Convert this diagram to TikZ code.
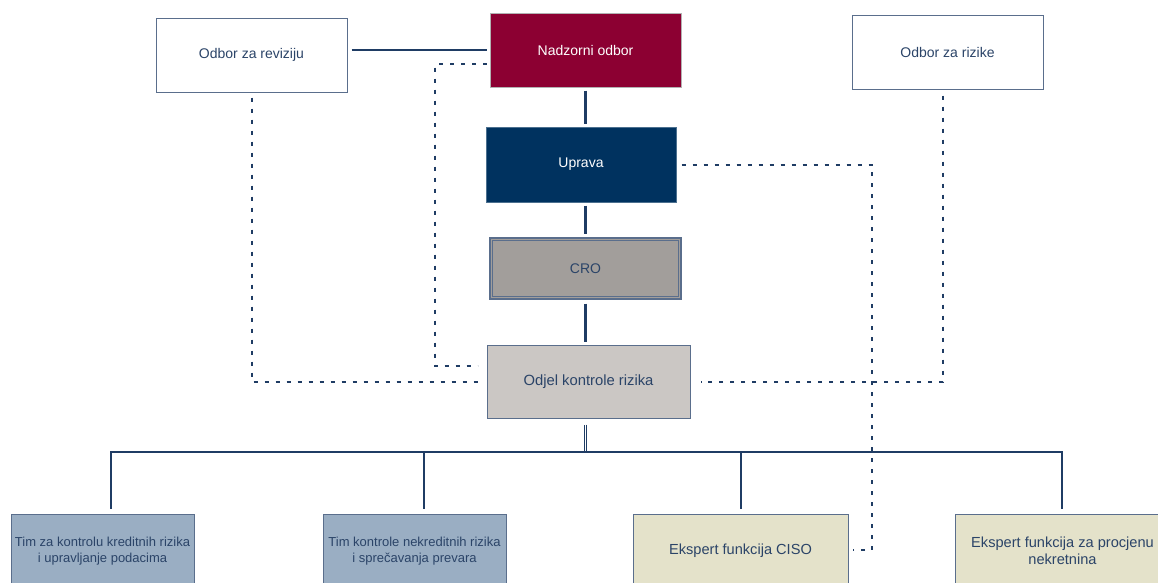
\documentclass[tikz,border=0pt]{standalone}
\usepackage{fontspec}
\setmainfont{Liberation Sans}
\usetikzlibrary{calc}
\definecolor{navy}{HTML}{1F3C64}
\definecolor{txtblue}{HTML}{2B4468}
\definecolor{nadfill}{HTML}{8C0032}
\definecolor{uprfill}{HTML}{00325F}
\definecolor{crofill}{HTML}{A29E9B}
\definecolor{odjfill}{HTML}{CBC7C4}
\definecolor{timfill}{HTML}{9AAEC3}
\definecolor{ekfill}{HTML}{E4E2CA}
\definecolor{bord}{HTML}{5A6E8C}
\tikzset{
  box/.style={draw=bord, line width=1pt, align=center, inner sep=0pt,
    font=\fontsize{14}{16}\selectfont, text=txtblue},
  timbox/.style={box, fill=timfill, minimum width=183pt, minimum height=74pt,
    font=\fontsize{13}{15.5}\selectfont},
  ekbox/.style={box, fill=ekfill, minimum width=215pt, minimum height=74pt,
    font=\fontsize{14.6}{16.5}\selectfont},
  conn/.style={draw=navy, line width=2.2pt},
  dotline/.style={draw=navy, line width=2pt, dash pattern=on 4pt off 7pt},
}
\begin{document}
\begin{tikzpicture}[x=1pt,y=-1pt]
\useasboundingbox[fill=white] (0,0) rectangle (1158,582);
% nodes
\node[box, fill=white, minimum width=191pt, minimum height=74pt] (rev) at (251.5,55) {Odbor za reviziju};
\node[box, fill=nadfill, draw=gray!60, text=white, minimum width=191pt, minimum height=74pt] (nad) at (585.5,50) {Nadzorni odbor};
\node[box, fill=white, minimum width=191pt, minimum height=74pt] (riz) at (947.5,52) {Odbor za rizike};
\node[box, fill=uprfill, draw=uprfill!70!white, text=white, minimum width=190pt, minimum height=75pt] (upr) at (581,164.5) {Uprava};
\node[box, fill=crofill, line width=1.2pt, minimum width=191pt, minimum height=61pt] (cro) at (585.5,268.5) {CRO};
\draw[draw=bord, line width=1pt] ($(cro.north west)+(3,3)$) rectangle ($(cro.south east)+(-3,-3)$);
\node[box, fill=odjfill, minimum width=203pt, minimum height=73pt, font=\fontsize{14.8}{17}\selectfont] (odj) at (588.5,381.5) {Odjel kontrole rizika};
\node[timbox] (t1) at (102.5,551) {Tim za kontrolu kreditnih rizika\\i upravljanje podacima};
\node[timbox] (t2) at (414.5,551) {Tim kontrole nekreditnih rizika\\i sprečavanja prevara};
\node[ekbox] (e1) at (740.5,551) {Ekspert funkcija CISO};
\node[ekbox] (e2) at (1062.5,551) {Ekspert funkcija za procjenu\\nekretnina};
% solid connectors
\draw[conn] ($(rev.east)+(4,-5)$) -- ($(nad.west)+(-3,0)$);
\draw[conn] ($(nad.south)+(0,3)$) -- ($(upr.north)+(4.5,-3)$);
\draw[conn] ($(upr.south)+(4.5,3)$) -- ($(cro.north)+(0,-3)$);
\draw[conn] ($(cro.south)+(0,4)$) -- ($(odj.north)+(-3,-3)$);
% double line and bus
\coordinate (bus) at ($(odj.south)+(-3,34)$);
\draw[draw=navy, line width=1.4pt, double=white, double distance=0.9pt] ($(odj.south)+(-3,6)$) -- (bus);
\draw[conn] (111,452) -- (1062,452);
\draw[conn] (111,451) -- (111,509);
\draw[conn] (424,451) -- (424,509);
\draw[conn] (741,451) -- (741,509);
\draw[conn] (1062,451) -- (1062,509);
% dotted connectors
\draw[dotline] ($(nad.west)+(-3,14)$) -| (435,366) -- ($(odj.west)+(-9,-15.5)$);
\draw[dotline] ($(rev.south)+(0,5)$) |- ($(odj.west)+(-9,0)$);
\draw[dotline] ($(riz.south)+(-4.5,6)$) |- ($(odj.east)+(10,0)$);
\draw[dotline] ($(upr.east)+(5,0)$) -| (872,550) -- ($(e1.east)+(4,-1)$);
\end{tikzpicture}
\end{document}
